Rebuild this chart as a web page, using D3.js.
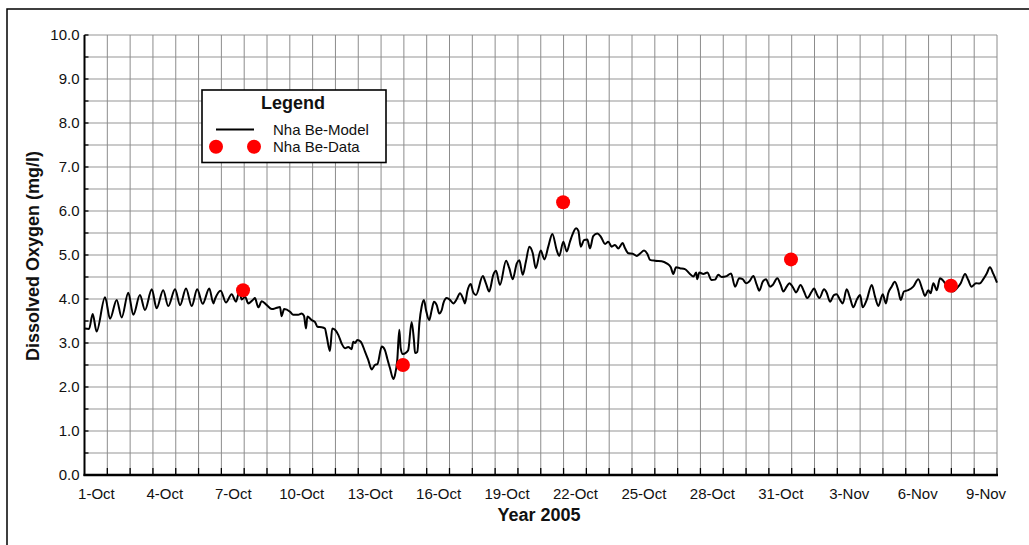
<!DOCTYPE html>
<html>
<head>
<meta charset="utf-8">
<script src="https://cdn.jsdelivr.net/npm/d3@7"></script>
<style>
  html, body { margin: 0; padding: 0; background: #fff; }
  svg { display: block; font-family: "Liberation Sans", Arial, sans-serif; }
</style>
</head>
<body>
<svg id="chart" width="1029" height="545"></svg>
<script>
// ---------------- DATA ----------------
// Model time series: days since 1-Oct-2005 00:00, dissolved oxygen (mg/l)
const modelDay = [0.00,0.20,0.36,0.53,0.90,1.12,1.41,1.63,1.92,2.14,2.43,2.65,2.95,3.16,3.45,3.67,3.97,4.19,4.45,4.70,
  4.94,5.18,5.47,5.65,5.72,5.97,6.20,6.45,6.64,6.79,6.89,7.04,7.18,7.40,7.47,7.62,7.77,7.99,8.21,8.43,
  8.57,8.64,8.75,9.01,9.15,9.37,9.52,9.62,9.71,9.77,9.96,10.10,10.21,10.40,10.54,10.62,10.76,10.86,10.98,11.13,
  11.27,11.42,11.56,11.71,11.78,11.86,11.96,12.11,12.30,12.44,12.59,12.73,12.84,13.03,13.17,13.27,13.39,13.54,13.61,13.71,
  13.80,13.86,13.95,14.09,14.19,14.34,14.44,14.49,14.59,14.68,14.78,14.88,14.97,15.11,15.22,15.32,15.44,15.55,15.66,15.73,
  15.88,16.02,16.17,16.32,16.46,16.60,16.68,16.78,16.93,17.04,17.16,17.46,17.60,17.74,17.92,18.04,18.21,18.48,18.62,18.77,
  18.95,19.06,19.21,19.35,19.50,19.65,19.78,20.00,20.16,20.33,20.51,20.70,20.81,20.99,21.14,21.28,21.38,21.55,21.65,21.75,
  21.90,22.04,22.16,22.30,22.48,22.63,22.82,22.96,23.11,23.25,23.40,23.59,23.69,23.84,24.03,24.21,24.35,24.53,24.67,24.79,
  25.01,25.30,25.52,25.70,25.81,25.93,26.10,26.32,26.54,26.69,26.81,26.86,26.95,27.13,27.30,27.49,27.64,27.78,27.93,28.15,
  28.34,28.52,28.70,28.85,29.00,29.14,29.32,29.47,29.58,29.73,29.87,30.05,30.17,30.37,30.52,30.63,30.78,30.90,31.07,31.19,
  31.39,31.54,31.68,31.88,31.98,32.12,32.21,32.42,32.53,32.68,32.85,32.97,33.12,33.24,33.41,33.56,33.70,33.85,34.00,34.11,
  34.29,34.51,34.65,34.80,34.99,35.13,35.23,35.38,35.52,35.67,35.78,35.92,36.11,36.33,36.55,36.74,36.84,36.99,37.09,37.21,
  37.36,37.50,37.68,37.87,38.06,38.23,38.41,38.60,38.74,38.89,39.08,39.23,39.40,39.55,39.69,39.84,40.00];
const modelDO = [3.33,3.32,3.66,3.26,4.04,3.55,3.98,3.58,4.14,3.64,4.09,3.75,4.22,3.79,4.20,3.84,4.22,3.86,4.24,3.84,
  4.22,3.89,4.24,3.90,4.00,4.19,3.92,4.11,3.94,4.17,3.99,4.05,3.90,3.99,4.02,3.81,3.95,3.86,3.77,3.80,
  3.82,3.61,3.77,3.71,3.64,3.64,3.67,3.62,3.33,3.60,3.52,3.48,3.37,3.36,3.33,3.14,2.82,3.33,3.30,3.18,
  2.99,2.88,2.91,2.86,3.03,3.00,3.07,3.03,2.80,2.61,2.40,2.50,2.52,2.92,2.84,2.65,2.43,2.18,2.27,2.61,
  3.30,2.88,2.75,2.78,2.84,3.48,3.07,2.77,2.80,3.45,3.83,3.98,3.75,3.52,3.75,3.94,3.86,3.67,3.75,3.90,
  4.02,3.98,3.90,4.00,4.13,4.00,3.90,4.17,4.34,4.15,4.09,4.52,4.35,4.17,4.55,4.64,4.32,4.87,4.70,4.45,
  4.81,4.88,4.55,4.85,5.19,5.04,4.70,5.10,4.90,5.19,5.48,5.11,4.98,5.30,5.08,5.30,5.45,5.61,5.55,5.19,
  5.34,5.35,5.15,5.43,5.49,5.42,5.25,5.30,5.19,5.23,5.15,5.27,5.16,5.04,5.03,4.98,5.03,5.10,5.03,4.89,
  4.87,4.86,4.81,4.72,4.57,4.72,4.70,4.68,4.57,4.51,4.60,4.45,4.60,4.57,4.60,4.43,4.44,4.55,4.50,4.52,
  4.58,4.28,4.47,4.45,4.36,4.40,4.52,4.32,4.19,4.39,4.45,4.28,4.32,4.47,4.32,4.17,4.28,4.36,4.25,4.15,
  4.32,4.17,4.02,4.17,4.24,4.09,4.02,4.22,4.15,3.94,4.09,4.11,3.98,3.90,4.22,4.02,3.81,3.98,4.09,3.81,
  3.98,4.32,4.06,3.84,4.11,3.90,4.13,4.28,4.39,4.20,3.98,4.17,4.20,4.28,4.45,4.20,4.07,4.20,4.13,4.36,
  4.20,4.47,4.39,4.24,4.17,4.24,4.36,4.57,4.43,4.28,4.36,4.35,4.45,4.58,4.72,4.57,4.37];

// Observed data: days since 1-Oct-2005 00:00, dissolved oxygen (mg/l)
const obsDay = [6.95, 13.96, 20.98, 30.97, 37.98];
const obsDO  = [4.2, 2.5, 6.2, 4.9, 4.3];

const xTickLabels = ["1-Oct","4-Oct","7-Oct","10-Oct","13-Oct","16-Oct","19-Oct","22-Oct","25-Oct","28-Oct","31-Oct","3-Nov","6-Nov","9-Nov"];
const yTickValues = [0,1,2,3,4,5,6,7,8,9,10];
const seriesNames = ["Nha Be-Model", "Nha Be-Data"];
const xTitle = "Year 2005";
const yTitle = "Dissolved Oxygen (mg/l)";
const legendTitle = "Legend";

// ---------------- LAYOUT ----------------
const plotL = 84.5, plotR = 997, plotT = 35, plotB = 475;
const t0 = Date.UTC(2005, 9, 1);
const dayMs = 864e5;
const toDate = d => new Date(t0 + d * dayMs);
const startDate = new Date(t0), endDate = new Date(Date.UTC(2005, 10, 10));

const svg = d3.select("#chart");

// outer frame
svg.append("rect").attr("x", 7).attr("y", 9).attr("width", 1100).attr("height", 1000)
  .attr("fill", "none").attr("stroke", "#000").attr("stroke-width", 1.5);

const x = d3.scaleUtc().domain([startDate, endDate]).range([plotL, plotR]);
const y = d3.scaleLinear().domain([0, 10]).range([plotB, plotT]);

// grid
const dayList = d3.utcDay.range(d3.utcDay.offset(startDate, 1), d3.utcDay.offset(endDate, 1));
const halfSteps = d3.range(0.5, 10.01, 0.5);

svg.append("g").selectAll("line").data(halfSteps).join("line")
  .attr("x1", plotL).attr("x2", plotR)
  .attr("y1", d => y(d)).attr("y2", d => y(d))
  .attr("stroke", "#b8b8b8").attr("stroke-width", 1.6);

svg.append("g").selectAll("line").data(dayList).join("line")
  .attr("x1", d => x(d)).attr("x2", d => x(d))
  .attr("y1", plotT).attr("y2", plotB)
  .attr("stroke", "#8c8c8c").attr("stroke-width", 1);

// inner minor ticks
svg.append("g").selectAll("line").data(dayList).join("line")
  .attr("x1", d => x(d)).attr("x2", d => x(d))
  .attr("y1", plotB).attr("y2", plotB - 7)
  .attr("stroke", "#000").attr("stroke-width", 1.3);
svg.append("g").selectAll("line").data(halfSteps).join("line")
  .attr("x1", plotL).attr("x2", plotL + 4)
  .attr("y1", d => y(d)).attr("y2", d => y(d))
  .attr("stroke", "#000").attr("stroke-width", 1.3);

// axes
const labelDates = xTickLabels.map((s, i) => d3.utcHour.offset(d3.utcDay.offset(startDate, i * 3), 12));
const xAxis = d3.axisBottom(x).tickValues(labelDates).tickFormat((d, i) => xTickLabels[i]).tickSize(0).tickPadding(13);
const gx = svg.append("g").attr("transform", `translate(0,${plotB})`).call(xAxis);
gx.select(".domain").remove();
gx.selectAll("text").attr("font-size", 15).attr("fill", "#111").attr("font-family", "Liberation Sans, Arial, sans-serif");

const yAxis = d3.axisLeft(y).tickValues(yTickValues).tickFormat(d3.format(".1f")).tickSize(0).tickPadding(5);
const gy = svg.append("g").attr("transform", `translate(${plotL},0)`).call(yAxis);
gy.select(".domain").remove();
gy.selectAll("text").attr("font-size", 15).attr("fill", "#111").attr("font-family", "Liberation Sans, Arial, sans-serif");

svg.append("line").attr("x1", plotL).attr("x2", plotL).attr("y1", plotT).attr("y2", plotB + 1)
  .attr("stroke", "#000").attr("stroke-width", 2);
svg.append("line").attr("x1", plotL - 1).attr("x2", plotR + 1).attr("y1", plotB).attr("y2", plotB)
  .attr("stroke", "#000").attr("stroke-width", 2.5);

// titles
svg.append("text").attr("x", 539).attr("y", 521).attr("text-anchor", "middle")
  .attr("font-size", 18).attr("font-weight", "bold").attr("fill", "#111").text(xTitle);
svg.append("text").attr("transform", "translate(39,256) rotate(-90)").attr("text-anchor", "middle")
  .attr("font-size", 18).attr("font-weight", "bold").attr("fill", "#111").text(yTitle);

// model line
const model = modelDay.map((d, i) => ({ t: toDate(d), v: modelDO[i] }));
svg.append("path").datum(model)
  .attr("fill", "none").attr("stroke", "#000").attr("stroke-width", 2).attr("stroke-linejoin", "round")
  .attr("d", d3.line().curve(d3.curveMonotoneX).x(d => x(d.t)).y(d => y(d.v)));

// observed points
const obs = obsDay.map((d, i) => ({ t: toDate(d), v: obsDO[i] }));
svg.append("g").selectAll("circle").data(obs).join("circle")
  .attr("cx", d => x(d.t)).attr("cy", d => y(d.v)).attr("r", 7).attr("fill", "#ff0000");

// legend
const lg = svg.append("g");
lg.append("rect").attr("x", 202).attr("y", 90).attr("width", 184).attr("height", 72.5)
  .attr("fill", "#fff").attr("stroke", "#000").attr("stroke-width", 1.6);
lg.append("text").attr("x", 293).attr("y", 108.5).attr("text-anchor", "middle")
  .attr("font-size", 18).attr("font-weight", "bold").attr("fill", "#111").text(legendTitle);
lg.append("line").attr("x1", 216).attr("x2", 254).attr("y1", 129.5).attr("y2", 129.5)
  .attr("stroke", "#000").attr("stroke-width", 1.8);
lg.append("text").attr("x", 273).attr("y", 134.5).attr("font-size", 15).attr("fill", "#111").text(seriesNames[0]);
lg.selectAll("circle").data([216, 254]).join("circle")
  .attr("cx", d => d).attr("cy", 146.7).attr("r", 7).attr("fill", "#ff0000");
lg.append("text").attr("x", 273).attr("y", 151.5).attr("font-size", 15).attr("fill", "#111").text(seriesNames[1]);
</script>
</body>
</html>
